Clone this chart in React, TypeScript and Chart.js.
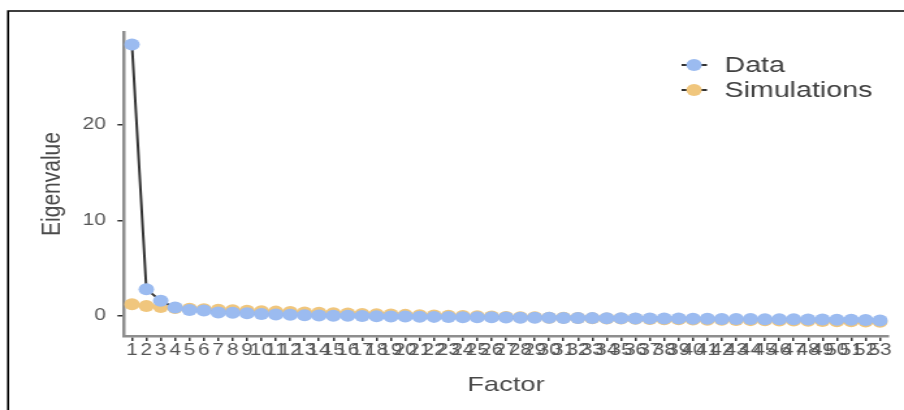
import React, { useEffect, useRef } from "react";
import { Chart, registerables } from "chart.js";

Chart.register(...registerables);

const factors = [
  1, 2, 3, 4, 5, 6, 7, 8, 9, 10, 11, 12, 13, 14, 15, 16, 17, 18, 19, 20,
  21, 22, 23, 24, 25, 26, 27, 28, 29, 30, 31, 32, 33, 34, 35, 36, 37, 38, 39, 40,
  41, 42, 43, 44, 45, 46, 47, 48, 49, 50, 51, 52, 53,
];

const dataValues = [
  28.4, 2.8, 1.58, 0.87, 0.63, 0.56, 0.36, 0.33, 0.28, 0.2, 0.14, 0.12, 0.07,
  0.05, 0.03, 0.01, -0.01, -0.03, -0.05, -0.07, -0.08, -0.1, -0.11, -0.13, -0.14,
  -0.15, -0.17, -0.18, -0.19, -0.2, -0.21, -0.22, -0.23, -0.24, -0.25, -0.26,
  -0.27, -0.27, -0.28, -0.29, -0.3, -0.31, -0.32, -0.33, -0.34, -0.35, -0.36,
  -0.37, -0.38, -0.4, -0.41, -0.43, -0.47,
];

const simValues = [
  1.23, 1.05, 0.93, 0.83, 0.76, 0.7, 0.64, 0.59, 0.54, 0.49, 0.45, 0.41, 0.37,
  0.33, 0.29, 0.25, 0.21, 0.18, 0.14, 0.11, 0.08, 0.05, 0.02, -0.01, -0.04,
  -0.07, -0.1, -0.13, -0.15, -0.18, -0.2, -0.22, -0.24, -0.26, -0.28, -0.3,
  -0.32, -0.34, -0.36, -0.38, -0.39, -0.41, -0.43, -0.44, -0.46, -0.48, -0.49,
  -0.51, -0.53, -0.55, -0.57, -0.59, -0.62,
];

const yTicks = [0, 10, 20];
const seriesNames = ["Data", "Simulations"];
const seriesColors = ["#9bbbf0", "#f0c67d"];

const FONT = "'Liberation Sans', Arial, sans-serif";
const W = 695; // internal canvas width, stretched to 904 display px
const H = 410;

const frameAndLegend = {
  id: "frameAndLegend",
  afterDraw(chart: any) {
    const ctx = chart.ctx;
    ctx.save();
    ctx.strokeStyle = "#000";
    ctx.lineWidth = 1.6;
    ctx.beginPath();
    ctx.moveTo(6.2, H);
    ctx.lineTo(6.2, 11);
    ctx.lineTo(W, 11);
    ctx.stroke();
    const ys = [65, 90];
    chart.data.datasets.forEach((ds: any, i: number) => {
      const y = ys[i];
      ctx.strokeStyle = "#333";
      ctx.lineWidth = 2;
      ctx.beginPath();
      ctx.moveTo(524, y);
      ctx.lineTo(543.5, y);
      ctx.stroke();
      ctx.fillStyle = ds.pointBackgroundColor;
      ctx.beginPath();
      ctx.arc(533.6, y, 6, 0, Math.PI * 2);
      ctx.fill();
      ctx.fillStyle = "#404040";
      ctx.font = `22px ${FONT}`;
      ctx.textAlign = "left";
      ctx.textBaseline = "middle";
      ctx.fillText(ds.label, 557, y + 1);
    });
    ctx.restore();
  },
};

export default function App() {
  const ref = useRef<HTMLCanvasElement | null>(null);

  useEffect(() => {
    if (!ref.current) return;
    const chart = new Chart(ref.current, {
      type: "line",
      data: {
        datasets: [
          {
            label: seriesNames[0],
            data: factors.map((f, i) => ({ x: f, y: dataValues[i] })),
            borderColor: "#333",
            borderWidth: 2,
            pointBackgroundColor: seriesColors[0],
            pointBorderColor: seriesColors[0],
            pointBorderWidth: 0,
            pointRadius: 6,
            tension: 0,
          },
          {
            label: seriesNames[1],
            data: factors.map((f, i) => ({ x: f, y: simValues[i] })),
            borderColor: "#333",
            borderWidth: 2,
            pointBackgroundColor: seriesColors[1],
            pointBorderColor: seriesColors[1],
            pointBorderWidth: 0,
            pointRadius: 6,
            tension: 0,
          },
        ],
      },
      options: {
        animation: false,
        responsive: false,
        devicePixelRatio: 1,
        layout: { padding: { left: 22, right: 12.3, top: 32, bottom: 0 } },
        plugins: {
          legend: { display: false },
          tooltip: { enabled: false },
        },
        scales: {
          x: {
            type: "linear",
            min: 0.444,
            max: 53.556,
            afterBuildTicks: (scale: any) => {
              scale.ticks = factors.map((v) => ({ value: v }));
            },
            afterFit: (scale: any) => {
              scale.height = 74;
            },
            grid: {
              drawOnChartArea: false,
              drawTicks: true,
              tickLength: 5,
              tickColor: "#333",
              lineWidth: 1.5,
            },
            border: { display: true, color: "#8e8e8e", width: 2.5 },
            ticks: {
              autoSkip: false,
              maxRotation: 0,
              minRotation: 0,
              padding: 0,
              color: "#555",
              font: { family: FONT, size: 16 },
              callback: (v: any) => String(v),
            },
            title: {
              display: true,
              text: "Factor",
              color: "#4a4a4a",
              font: { family: FONT, size: 21 },
              padding: { top: 0, bottom: 12.4 },
            },
          },
          y: {
            min: -2.1,
            max: 29.7,
            afterBuildTicks: (scale: any) => {
              scale.ticks = yTicks.map((v) => ({ value: v }));
            },
            afterFit: (scale: any) => {
              scale.width = 73.3;
            },
            grid: {
              drawOnChartArea: false,
              drawTicks: true,
              tickLength: 5,
              tickColor: "#333",
              lineWidth: 1.5,
            },
            border: { display: true, color: "#8e8e8e", width: 2.5 },
            ticks: {
              padding: 9,
              color: "#555",
              font: { family: FONT, size: 16 },
              callback: (v: any) => String(v),
            },
            title: {
              display: true,
              text: "Eigenvalue",
              color: "#4a4a4a",
              font: { family: FONT, size: 21 },
              padding: { top: 6, bottom: 0 },
            },
          },
        },
      },
      plugins: [frameAndLegend],
    } as any);
    return () => chart.destroy();
  }, []);

  return (
    <div
      style={{
        position: "absolute",
        left: 0,
        top: 0,
        width: 904,
        height: 410,
        background: "#fff",
        overflow: "hidden",
      }}
    >
      <canvas
        ref={ref}
        width={W}
        height={H}
        style={{ display: "block", width: "904px", height: "410px" }}
      />
    </div>
  );
}
